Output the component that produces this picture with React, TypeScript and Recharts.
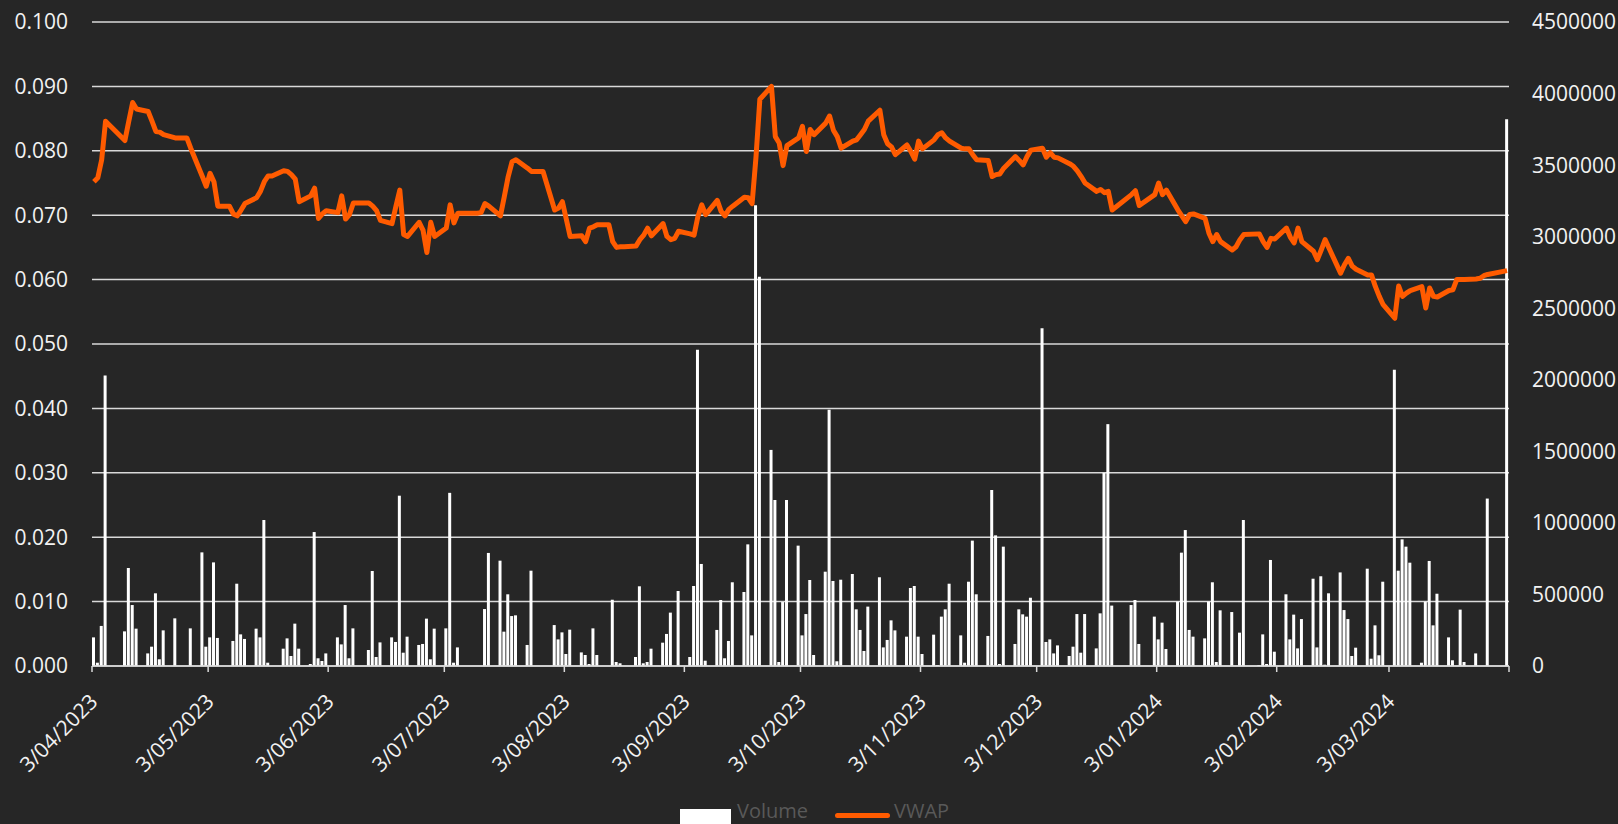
import { Bar, CartesianGrid, ComposedChart, Legend, Line, XAxis, YAxis } from "recharts"

// trading sessions run from Mon 3 Apr 2023 to Tue 2 Apr 2024 (ASX calendar)
const firstDay = "2023-04-03"
const lastDay = "2024-04-02"
const holidays = [
  "2023-04-07", "2023-04-10", "2023-04-25", "2023-06-12", "2023-12-25",
  "2023-12-26", "2024-01-01", "2024-01-26", "2024-03-29", "2024-04-01",
]

// one row per trading week
const volume = [
  200000, 23000, 280000, 2030000,
  242000, 685000, 426000, 261000,
  88000, 135000, 508000, 47000, 249000,
  333000, 0, 0, 263000,
  794000, 135000, 200000, 724000, 196000,
  0, 175000, 575000, 221000, 189000,
  261000, 200000, 1020000, 23000, 0,
  121000, 193000, 70000, 296000, 121000,
  14000, 936000, 54000, 35000, 88000,
  200000, 151000, 426000, 54000, 263000,
  112000, 664000, 63000, 165000,
  200000, 168000, 1190000, 93000, 205000,
  147000, 154000, 331000, 47000, 261000,
  263000, 1210000, 23000, 130000, 0,
  0, 0, 0, 398000, 790000,
  736000, 240000, 501000, 349000, 354000,
  147000, 666000, 0, 0, 0,
  286000, 186000, 235000, 84000, 254000,
  95000, 77000, 14000, 263000, 77000,
  0, 463000, 28000, 19000, 0,
  63000, 557000, 19000, 28000, 121000,
  163000, 224000, 373000, 0, 524000,
  63000, 559000, 2210000, 713000, 37000,
  252000, 461000, 54000, 175000, 585000,
  517000, 850000, 214000, 3220000, 2720000,
  1510000, 1160000, 28000, 447000, 1160000,
  841000, 214000, 363000, 601000, 77000,
  659000, 1790000, 594000, 33000, 603000,
  643000, 396000, 252000, 105000, 415000,
  620000, 130000, 182000, 319000, 249000,
  205000, 545000, 559000, 205000, 84000,
  219000, 7000, 345000, 396000, 575000,
  214000, 23000, 589000, 876000, 501000,
  210000, 1230000, 913000, 14000, 834000,
  154000, 396000, 361000, 345000, 477000,
  2360000, 168000, 186000, 88000, 144000,
  70000, 135000, 363000, 93000, 363000,
  123000, 368000, 1350000, 1690000, 422000,
  426000, 461000, 154000,
  345000, 186000, 303000, 119000,
  450000, 792000, 950000, 252000, 205000,
  193000, 450000, 585000, 28000, 389000,
  377000, 0, 233000, 1020000,
  7000, 221000, 14000, 741000, 100000,
  501000, 186000, 359000, 123000, 328000,
  610000, 130000, 627000, 9000, 508000,
  654000, 391000, 328000, 70000, 128000,
  680000, 51000, 284000, 75000, 589000,
  2070000, 666000, 885000, 834000, 722000,
  23000, 450000, 734000, 284000, 505000,
  200000, 40000, 0, 394000, 28000,
  88000, 0, 0, 1170000,
  3820000,
]

const vwap = [
  0.0752, 0.0758, 0.0786, 0.0846,
  0.0816, 0.0846, 0.0875, 0.0865,
  0.0861, 0.0846, 0.083, 0.0829, 0.0825,
  0.082, 0.082, 0.082, 0.0804,
  0.076, 0.0745, 0.0765, 0.0752, 0.0714,
  0.0714, 0.0702, 0.0699, 0.0708, 0.0718,
  0.0727, 0.0737, 0.0752, 0.0761, 0.0761,
  0.0769, 0.0768, 0.0763, 0.0756, 0.0721,
  0.073, 0.0742, 0.0695, 0.0702, 0.0707,
  0.0704, 0.073, 0.0694, 0.0701, 0.0719,
  0.0719, 0.0714, 0.0707, 0.0692,
  0.0687, 0.0714, 0.0739, 0.067, 0.0667,
  0.0689, 0.0677, 0.0642, 0.0689, 0.0667,
  0.068, 0.0716, 0.0688, 0.0703, 0.0703,
  0.0703, 0.0703, 0.0704, 0.0718, 0.0714,
  0.0699, 0.0729, 0.076, 0.0783, 0.0786,
  0.0773, 0.0768, 0.0768, 0.0768, 0.0768,
  0.0708, 0.0711, 0.0721, 0.0694, 0.0667,
  0.0668, 0.0659, 0.068, 0.0682, 0.0685,
  0.0685, 0.0659, 0.065, 0.0651, 0.0651,
  0.0652, 0.0662, 0.0669, 0.068, 0.0668,
  0.0687, 0.0667, 0.0662, 0.0664, 0.0675,
  0.0671, 0.0669, 0.0698, 0.0716, 0.0701,
  0.0723, 0.0706, 0.0699, 0.0709, 0.0714,
  0.0728, 0.0727, 0.0718, 0.079, 0.088,
  0.09, 0.0822, 0.0812, 0.0777, 0.0808,
  0.082, 0.0838, 0.0799, 0.0833, 0.0825,
  0.0843, 0.0854, 0.0832, 0.0822, 0.0804,
  0.0815, 0.0817, 0.0825, 0.0833, 0.0846,
  0.0863, 0.0825, 0.0811, 0.0806, 0.0794,
  0.0809, 0.0799, 0.0787, 0.0815, 0.0803,
  0.0817, 0.0825, 0.0828, 0.082, 0.0815,
  0.0804, 0.0803, 0.0803, 0.0794, 0.0786,
  0.0785, 0.076, 0.0763, 0.0764, 0.0773,
  0.0791, 0.0785, 0.0778, 0.0791, 0.0801,
  0.0804, 0.079, 0.0797, 0.079, 0.0789,
  0.078, 0.0776, 0.0769, 0.076, 0.075,
  0.0737, 0.074, 0.0735, 0.0737, 0.0708,
  0.0732, 0.0738, 0.0715,
  0.0732, 0.075, 0.0732, 0.0739,
  0.0708, 0.0699, 0.069, 0.0701, 0.0702,
  0.0695, 0.0672, 0.0659, 0.067, 0.0659,
  0.0646, 0.0651, 0.0662, 0.067,
  0.0671, 0.0659, 0.065, 0.0664, 0.0663,
  0.068, 0.0666, 0.0657, 0.068, 0.0659,
  0.0644, 0.0631, 0.0646, 0.0662, 0.0649,
  0.061, 0.0623, 0.0633, 0.0621, 0.0616,
  0.0607, 0.0607, 0.0589, 0.0574, 0.0561,
  0.054, 0.059, 0.0574, 0.0579, 0.0583,
  0.0589, 0.0556, 0.0587, 0.0574, 0.0573,
  0.0583, 0.0584, 0.06, 0.06, 0.06,
  0.0601, 0.0602, 0.0606, 0.0608,
  0.0614,
]

// axis ticks: days since 3 Apr 2023
const monthTicks = [0, 30, 61, 91, 122, 153, 183, 214, 244, 275, 306, 335, 366]
const monthLabels = [
  "3/04/2023", "3/05/2023", "3/06/2023", "3/07/2023", "3/08/2023", "3/09/2023",
  "3/10/2023", "3/11/2023", "3/12/2023", "3/01/2024", "3/02/2024", "3/03/2024", "",
]
const vwapTicks = [0, 0.01, 0.02, 0.03, 0.04, 0.05, 0.06, 0.07, 0.08, 0.09, 0.1]
const volumeTicks = [0, 500000, 1000000, 1500000, 2000000, 2500000, 3000000, 3500000, 4000000, 4500000]

const DAY = 86400000
const start = Date.parse(firstDay + "T00:00:00Z")
const offsetOf = (iso: string) => Math.round((Date.parse(iso + "T00:00:00Z") - start) / DAY)
const closed = new Set(holidays.map(offsetOf))

const sessions: number[] = []
for (let d = 0; d <= offsetOf(lastDay); d++) {
  const wd = new Date(start + d * DAY).getUTCDay()
  if (wd === 0 || wd === 6 || closed.has(d)) continue
  sessions.push(d)
}

// bars/line sit in the middle of each day slot
const data = sessions.map((d, i) => ({ day: d + 0.5, volume: volume[i], vwap: vwap[i] }))

const font = "'Open Sans', sans-serif"
const grid = "#d9d9d9"
const orange = "#ff5b00"

function DateTick(props: any) {
  const { x, y, payload } = props
  const label = monthLabels[monthTicks.indexOf(payload.value)] ?? ""
  const ax = x + 7
  const ay = y + 29
  return (
    <text x={ax} y={ay} transform={`rotate(-45 ${ax} ${ay})`} textAnchor="end" fill="#f2f2f2" fontSize={21} fontFamily={font}>
      {label}
    </text>
  )
}

function LegendRow() {
  const text = { position: "absolute" as const, top: 4, fontSize: 20, lineHeight: "26px", color: "#595959", fontFamily: font }
  return (
    <div style={{ position: "relative", width: 1618, height: 30 }}>
      <div style={{ position: "absolute", left: 680, top: 15, width: 51, height: 17, background: "#ffffff" }} />
      <span style={{ ...text, left: 737 }}>Volume</span>
      <div style={{ position: "absolute", left: 835, top: 19, width: 55, height: 5, borderRadius: 3, background: orange }} />
      <span style={{ ...text, left: 894 }}>VWAP</span>
    </div>
  )
}

export default function App() {
  return (
    <div style={{ position: "fixed", left: 0, top: 0, width: 1618, height: 824, background: "#262626", overflow: "hidden" }}>
      <ComposedChart width={1618} height={824} data={data} margin={{ top: 22, right: 0, bottom: 0, left: 0 }}>
        <CartesianGrid vertical={false} stroke={grid} strokeWidth={1.5} />
        <XAxis
          dataKey="day"
          type="number"
          domain={[0, 366]}
          ticks={monthTicks}
          interval={0}
          height={128}
          tickSize={6}
          axisLine={{ stroke: grid, strokeWidth: 1.5 }}
          tickLine={{ stroke: grid, strokeWidth: 1.5 }}
          tick={DateTick}
        />
        <YAxis
          domain={[0, 0.1]}
          ticks={vwapTicks}
          interval={0}
          width={92}
          axisLine={false}
          tickLine={false}
          tickSize={0}
          tickMargin={24}
          tickFormatter={(v: number) => v.toFixed(3)}
          tick={{ fill: "#f2f2f2", fontSize: 21, fontFamily: font }}
        />
        <YAxis
          yAxisId="right"
          orientation="right"
          domain={[0, 4500000]}
          ticks={volumeTicks}
          interval={0}
          width={109}
          axisLine={false}
          tickLine={false}
          tickSize={0}
          tickMargin={23}
          tickFormatter={(v: number) => String(v)}
          tick={{ fill: "#f2f2f2", fontSize: 21, fontFamily: font }}
        />
        <Legend verticalAlign="bottom" height={30} wrapperStyle={{ left: 0, width: 1618 }} content={() => <LegendRow />} />
        <Bar yAxisId="right" dataKey="volume" name="Volume" fill="#ffffff" barSize={3} isAnimationActive={false} />
        <Line
          dataKey="vwap"
          name="VWAP"
          type="linear"
          stroke={orange}
          strokeWidth={5}
          strokeLinejoin="round"
          dot={false}
          activeDot={false}
          isAnimationActive={false}
        />
      </ComposedChart>
    </div>
  )
}
